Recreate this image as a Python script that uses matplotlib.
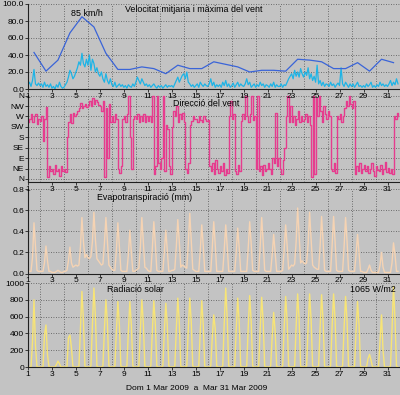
import numpy as np
import matplotlib
matplotlib.use("Agg")
import matplotlib.pyplot as plt

# ---------------- data ----------------
DAYS = list(range(1, 32))
HOURS = [0, 3, 6, 9, 12, 15, 18, 21]

# daily maximum wind (km/h)
WIND_MAX = [43, 21, 34, 66, 85, 73, 42, 23, 23, 26, 24, 18, 28, 24, 24, 32,
            29, 26, 20, 22, 22, 21, 35, 34, 32, 24, 24, 31, 21, 35, 31]

# mean wind (km/h), 3-hourly per day
WIND_MEAN = [
    [5, 8, 3, 10, 23, 6, 4, 7],
    [4, 6, 2, 8, 3, 5, 2, 6],
    [1, 3, 0, 5, 2, 8, 3, 1],
    [2, 5, 8, 14, 22, 18, 12, 15],
    [20, 25, 32, 28, 42, 30, 26, 35],
    [28, 40, 22, 35, 30, 20, 25, 18],
    [15, 20, 12, 8, 18, 10, 6, 12],
    [5, 3, 8, 2, 4, 6, 3, 5],
    [2, 4, 1, 5, 3, 2, 6, 3],
    [8, 14, 10, 6, 12, 8, 4, 6],
    [3, 5, 2, 4, 6, 3, 1, 4],
    [2, 4, 1, 3, 5, 2, 4, 3],
    [4, 2, 6, 10, 14, 8, 12, 16],
    [18, 12, 20, 8, 6, 3, 5, 2],
    [4, 6, 2, 8, 5, 3, 6, 4],
    [3, 6, 12, 4, 8, 2, 5, 3],
    [5, 2, 8, 4, 10, 3, 6, 2],
    [4, 7, 2, 5, 8, 3, 6, 4],
    [3, 6, 12, 5, 8, 2, 4, 6],
    [2, 5, 3, 8, 4, 6, 2, 5],
    [4, 2, 6, 3, 8, 2, 5, 3],
    [3, 6, 2, 5, 4, 8, 12, 15],
    [18, 12, 22, 15, 20, 14, 24, 18],
    [14, 20, 16, 25, 12, 18, 10, 15],
    [8, 28, 6, 10, 4, 8, 3, 6],
    [5, 3, 8, 4, 6, 2, 5, 7],
    [4, 25, 6, 3, 8, 5, 2, 6],
    [3, 6, 2, 5, 8, 3, 4, 2],
    [4, 2, 6, 3, 5, 8, 2, 4],
    [2, 5, 3, 8, 4, 6, 3, 5],
    [3, 6, 10, 4, 8, 5, 12, 6],
]

# wind direction index (0=N,1=NE,...,7=NW,8=N), 3-hourly per day
DIRECTION = [
    [5.5, 5.8, 6.2, 5.5, 6.0, 6.2, 5.3, 5.8],
    [5.6, 6.0, 3.6, 5.8, 6.9, 0.2, 1.2, 0.8],
    [1.0, 0.5, 1.3, 0.8, 1.0, 0.3, 1.2, 0.8],
    [1.0, 0.7, 4.0, 5.5, 6.2, 5.4, 6.3, 6.0],
    [6.2, 6.5, 6.8, 7.3, 6.8, 7.0, 7.2, 6.9],
    [7.1, 7.5, 7.0, 7.8, 7.2, 7.6, 7.4, 7.1],
    [7.0, 6.5, 7.5, 0.2, 6.8, 2.0, 7.2, 5.5],
    [6.0, 5.5, 6.2, 5.8, 1.0, 0.6, 1.2, 5.8],
    [6.0, 5.5, 6.2, 8.0, 4.0, 1.0, 5.8, 6.0],
    [5.8, 6.2, 5.5, 6.0, 5.6, 6.2, 5.5, 6.0],
    [5.6, 6.0, 5.5, 8.0, 0.5, 1.2, 8.0, 1.5],
    [1.0, 2.0, 8.0, 0.8, 5.2, 4.8, 1.2, 0.5],
    [5.0, 6.5, 6.0, 7.0, 5.5, 6.2, 5.8, 6.3],
    [5.5, 1.0, 0.6, 1.5, 5.2, 5.6, 6.0, 5.8],
    [5.8, 5.5, 6.0, 5.7, 5.5, 6.0, 5.8, 5.6],
    [5.7, 1.2, 0.8, 1.5, 0.5, 1.8, 1.0, 0.6],
    [1.2, 0.8, 1.5, 0.4, 1.0, 0.6, 6.0, 7.5],
    [5.8, 6.2, 0.8, 0.5, 1.3, 0.8, 5.6, 6.2],
    [5.8, 8.0, 6.0, 5.5, 6.2, 8.0, 5.7, 6.0],
    [1.0, 8.0, 0.8, 1.2, 0.4, 1.3, 0.8, 1.0],
    [1.5, 1.0, 0.5, 2.0, 1.5, 6.3, 1.2, 2.0],
    [1.0, 0.5, 1.8, 3.0, 6.0, 8.0, 5.5, 7.0],
    [5.5, 6.0, 5.2, 5.8, 6.5, 5.5, 6.0, 5.6],
    [5.8, 6.2, 5.5, 6.0, 5.2, 0.2, 8.0, 0.5],
    [7.8, 6.0, 8.0, 6.5, 5.5, 7.0, 6.2, 5.8],
    [6.5, 6.0, 1.0, 0.8, 1.5, 0.6, 6.0, 5.8],
    [6.2, 5.5, 6.0, 6.8, 7.5, 7.0, 8.0, 7.2],
    [6.8, 7.5, 0.5, 1.2, 0.8, 1.5, 0.6, 1.0],
    [1.3, 0.8, 1.2, 0.6, 1.0, 1.5, 0.8, 0.3],
    [1.2, 0.9, 0.8, 1.3, 0.5, 1.0, 1.6, 0.7],
    [1.1, 0.6, 1.0, 0.5, 6.0, 5.8, 6.3, 6.0],
]
DIR_LABELS = ["N", "NE", "E", "SE", "S", "SW", "W", "NW", "N"]

# evapotranspiration (mm), 3-hourly per day
ET = [
    [.02, .02, .02, .15, .48, .25, .03, .02],
    [.02, .02, .02, .10, .26, .12, .02, .02],
    [.01, .01, .01, .02, .03, .02, .01, .01],
    [.02, .02, .03, .12, .25, .10, .06, .07],
    [.08, .07, .08, .25, .53, .30, .15, .18],
    [.15, .14, .16, .30, .58, .32, .14, .12],
    [.10, .08, .09, .28, .53, .30, .08, .06],
    [.04, .03, .03, .22, .48, .25, .03, .02],
    [.02, .02, .02, .18, .41, .20, .02, .02],
    [.03, .04, .05, .25, .53, .30, .06, .05],
    [.03, .02, .02, .24, .49, .28, .03, .02],
    [.02, .02, .02, .20, .41, .22, .02, .02],
    [.03, .03, .04, .25, .51, .30, .06, .08],
    [.07, .06, .05, .28, .57, .30, .04, .03],
    [.02, .02, .02, .22, .46, .26, .02, .02],
    [.02, .02, .02, .24, .49, .27, .02, .02],
    [.02, .02, .02, .22, .46, .25, .02, .02],
    [.02, .02, .02, .20, .43, .24, .02, .02],
    [.02, .02, .02, .24, .49, .28, .03, .02],
    [.02, .02, .02, .26, .53, .30, .03, .02],
    [.02, .02, .02, .18, .37, .20, .02, .02],
    [.02, .02, .03, .22, .46, .26, .04, .06],
    [.08, .07, .09, .30, .62, .35, .10, .12],
    [.10, .09, .10, .28, .58, .32, .08, .06],
    [.05, .04, .04, .26, .54, .30, .03, .02],
    [.02, .02, .02, .26, .54, .30, .03, .02],
    [.02, .02, .02, .25, .53, .30, .03, .02],
    [.02, .02, .02, .18, .37, .20, .02, .02],
    [.01, .01, .01, .04, .08, .03, .01, .01],
    [.01, .01, .01, .08, .20, .06, .01, .01],
    [.01, .01, .01, .10, .29, .18, .02, .02],
]

# solar radiation (W/m2), 3-hourly per day
RAD = [
    [0, 0, 0, 300, 800, 250, 0, 0],
    [0, 0, 0, 380, 500, 150, 0, 0],
    [0, 0, 0, 30, 70, 40, 0, 0],
    [0, 0, 0, 350, 380, 230, 0, 0],
    [0, 0, 10, 450, 900, 550, 10, 0],
    [0, 0, 10, 500, 940, 600, 10, 0],
    [0, 0, 10, 440, 800, 520, 10, 0],
    [0, 0, 10, 430, 780, 500, 10, 0],
    [0, 0, 10, 430, 780, 500, 10, 0],
    [0, 0, 10, 440, 800, 520, 10, 0],
    [0, 0, 10, 430, 790, 510, 10, 0],
    [0, 0, 10, 420, 760, 490, 10, 0],
    [0, 0, 10, 450, 820, 530, 10, 0],
    [0, 0, 10, 450, 820, 530, 10, 0],
    [0, 0, 10, 430, 790, 500, 10, 0],
    [0, 0, 10, 350, 620, 450, 10, 0],
    [0, 0, 10, 520, 940, 560, 10, 0],
    [0, 0, 10, 450, 820, 530, 10, 0],
    [0, 0, 10, 470, 850, 540, 10, 0],
    [0, 0, 10, 460, 830, 540, 10, 0],
    [0, 0, 10, 360, 650, 420, 10, 0],
    [0, 0, 10, 460, 840, 540, 10, 0],
    [0, 0, 10, 480, 870, 560, 10, 0],
    [0, 0, 10, 480, 870, 560, 10, 0],
    [0, 0, 10, 470, 860, 550, 10, 0],
    [0, 0, 10, 480, 870, 560, 10, 0],
    [0, 0, 10, 460, 840, 540, 10, 0],
    [0, 0, 10, 430, 780, 500, 10, 0],
    [0, 0, 0, 100, 150, 80, 0, 0],
    [0, 0, 0, 300, 620, 200, 0, 0],
    [0, 0, 10, 450, 960, 560, 10, 0],
]

X_TICKS = list(range(1, 32, 2))
GRID_X = list(range(2, 33, 2))
TITLE_WIND = "Velocitat mitjana i màxima del vent"
PEAK_LABEL = "85 km/h"
TITLE_DIR = "Direcció del vent"
TITLE_ET = "Evapotranspiració (mm)"
TITLE_RAD = "Radiació solar"
RAD_MAX_LABEL = "1065 W/m2"
PERIOD_LABEL = "Dom 1 Mar 2009  a  Mar 31 Mar 2009"

# ---------------- style ----------------
BG = "#c3c3c3"
FONT = "Liberation Sans"
plt.rcParams["font.family"] = [FONT, "DejaVu Sans"]
TFS = 6.4   # title font size
KFS = 6.0   # tick font size

W, H = 400, 395
fig = plt.figure(figsize=(W / 100, H / 100), dpi=100, facecolor=BG)

x_hourly = np.add.outer(np.array(DAYS, float), np.array(HOURS) / 24.0).ravel()
x_daily = np.array(DAYS, float) + 0.5


def make_ax(top, bottom, z):
    ax = fig.add_axes([28 / W, 1 - bottom / H, 371.5 / W, (bottom - top) / H])
    ax.set_zorder(z)
    ax.set_facecolor(BG)
    for s in ("top", "right"):
        ax.spines[s].set_visible(False)
    for s in ("left", "bottom"):
        ax.spines[s].set_color("#202020")
        ax.spines[s].set_linewidth(0.8)
    ax.set_xlim(1, 32)
    ax.set_xticks(X_TICKS)
    ax.set_xticks(GRID_X, minor=True)
    ax.tick_params(axis="x", which="minor", length=0)
    ax.tick_params(axis="both", which="major", labelsize=KFS, length=2,
                   width=0.6, pad=0.8, colors="#202020", labelcolor="black")
    ax.grid(which="minor", axis="x", color="#505050", lw=0.6, ls=(0, (1, 2)))
    ax.grid(which="major", axis="y", color="#505050", lw=0.6, ls=(0, (1, 2)))
    ax.set_axisbelow(True)
    return ax


# panel 1: wind speed
ax1 = make_ax(4, 89, 4)
ax1.set_ylim(0, 100)
ax1.set_yticks([0, 20, 40, 60, 80, 100])
ax1.set_yticklabels([f"{v:.1f}" for v in [0, 20, 40, 60, 80, 100]])
ax1.plot(x_hourly, np.array(WIND_MEAN).ravel(), color="#1eb4e6", lw=0.9)
ax1.plot(x_daily, WIND_MAX, color="#3a64d8", lw=0.9)
ax1.text(87 / W, 1 - 14 / H, PEAK_LABEL, transform=fig.transFigure,
         ha="center", va="center", fontsize=TFS)
ax1.text(125 / W, 1 - 10 / H, TITLE_WIND, transform=fig.transFigure,
         ha="left", va="center", fontsize=TFS)

# panel 2: wind direction
ax2 = make_ax(95, 182, 3)
ax2.set_ylim(-0.29, 8.06)
ax2.set_yticks(range(9))
ax2.set_yticklabels(DIR_LABELS)
ax2.plot(x_hourly, np.array(DIRECTION).ravel(), color="#e63c8e", lw=1.0,
         drawstyle="steps-post")
ax2.text(173 / W, 1 - 104 / H, TITLE_DIR, transform=fig.transFigure,
         ha="left", va="center", fontsize=TFS)

# panel 3: evapotranspiration
ax3 = make_ax(189, 273.5, 2)
ax3.set_ylim(0, 0.8)
ax3.set_yticks([0, 0.2, 0.4, 0.6, 0.8])
ax3.set_yticklabels([f"{v:.1f}" for v in [0, 0.2, 0.4, 0.6, 0.8]])
ax3.plot(x_hourly, np.array(ET).ravel(), color="#f5d3b3", lw=1.0)
ax3.text(97 / W, 1 - 198 / H, TITLE_ET, transform=fig.transFigure,
         ha="left", va="center", fontsize=TFS)

# panel 4: solar radiation
ax4 = make_ax(283, 367, 1)
ax4.set_ylim(0, 1000)
ax4.set_yticks([0, 200, 400, 600, 800, 1000])
ax4.plot(x_hourly, np.array(RAD).ravel(), color="#f7e476", lw=1.0)
ax4.text(107 / W, 1 - 289 / H, TITLE_RAD, transform=fig.transFigure,
         ha="left", va="center", fontsize=TFS)
ax4.text(396 / W, 1 - 289 / H, RAD_MAX_LABEL, transform=fig.transFigure,
         ha="right", va="center", fontsize=TFS)

fig.text(197 / W, 1 - 389 / H, PERIOD_LABEL, ha="center", va="center",
         fontsize=KFS)

fig.savefig("out.png", dpi=100, facecolor=BG)
